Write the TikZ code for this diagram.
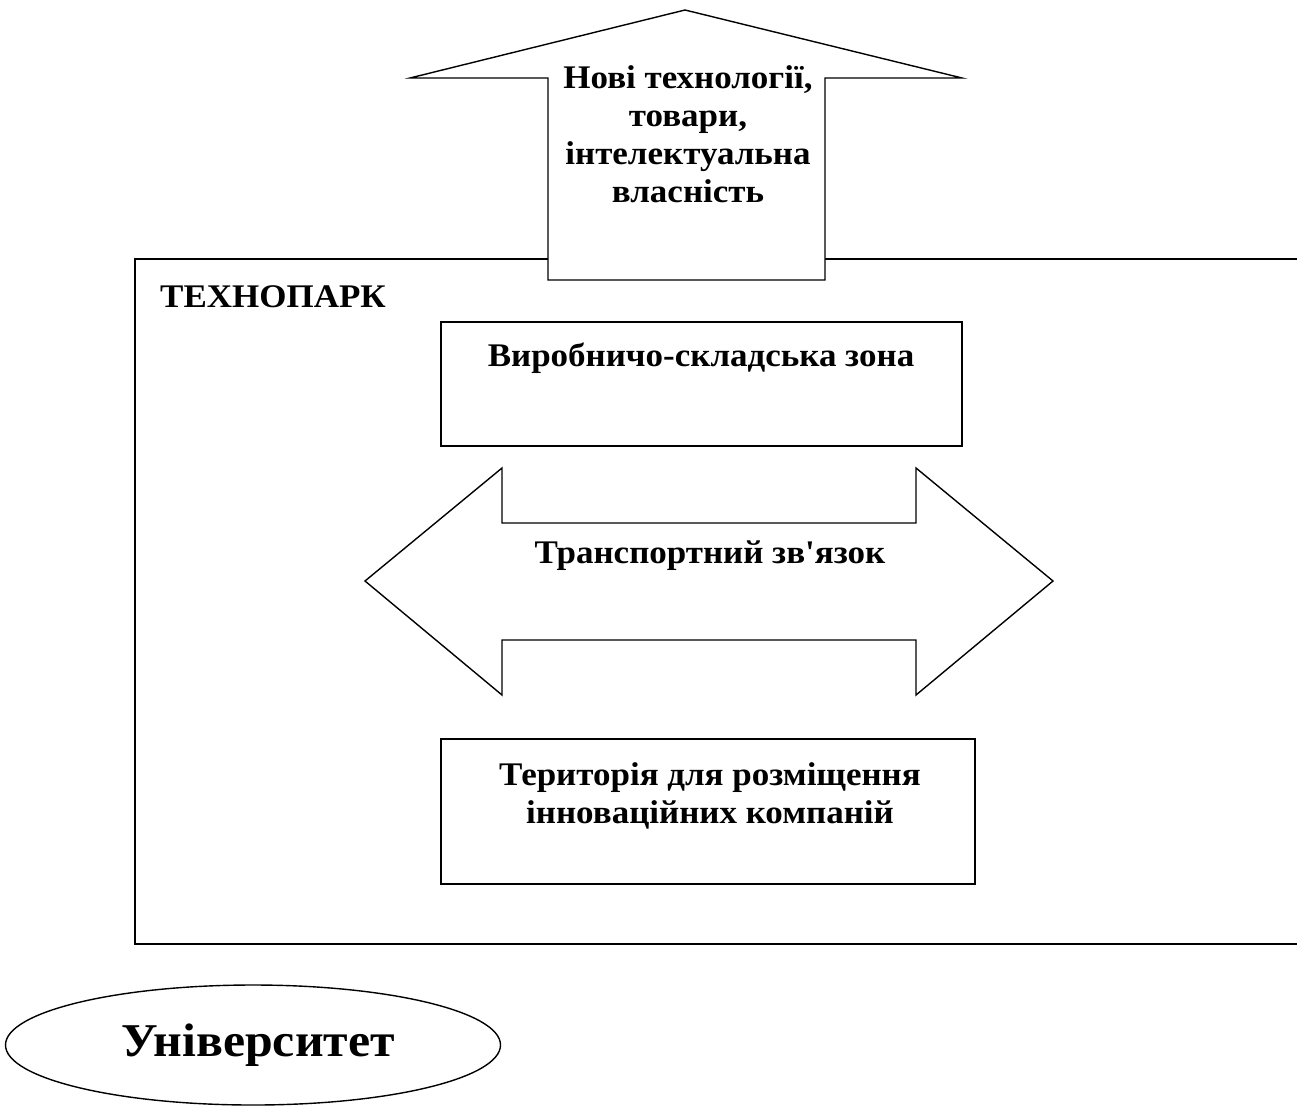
\documentclass[tikz,border=0pt]{standalone}
\usepackage{fontspec}
\setmainfont{Liberation Serif}[FakeStretch=1.06,Ligatures=TeXOff]
\usetikzlibrary{shapes.geometric}
\begin{document}
\begin{tikzpicture}[x=1pt,y=-1pt,
  line/.style={draw=black,line width=1.4pt},
  lbl/.style={font=\bfseries\fontsize{33}{38}\selectfont,align=center,inner sep=0pt},
  zonebox/.style={line,fill=white}]
\useasboundingbox (0,0) rectangle (1297,1111);
% technopark frame (open at right)
\draw[line] (1297,259) -- (135,259) -- (135,944) -- (1297,944);
% up arrow
\draw[line,fill=white,line join=miter] (548,280) -- (548,78) -- (410,78) -- (685,10) -- (962,78) -- (825,78) -- (825,280) -- cycle;
\node[lbl] (out) at (688,134) {Нові технології,\\товари,\\інтелектуальна\\власність};
\node[lbl,anchor=west] (tp) at (160,297) {ТЕХНОПАРК};
% production zone
\draw[zonebox] (441,322) rectangle (962,446);
\node[lbl] (prod) at (701,358) {Виробничо-складська зона};
% double arrow
\draw[line,fill=white,line join=miter] (365,581) -- (502,468) -- (502,523) -- (916,523) -- (916,468) -- (1053,581) -- (916,695) -- (916,640) -- (502,640) -- (502,695) -- cycle;
\node[lbl] (trans) at (710,556) {Транспортний зв'язок};
% territory
\draw[zonebox] (441,739) rectangle (975,884);
\node[lbl] (terr) at (710,796) {Територія для розміщення\\інноваційних компаній};
% university
\node[draw=black,line width=1.4pt,ellipse,minimum width=495,minimum height=120,inner sep=0pt] (uni) at (253,1045) {};
\node[font=\bfseries\fontsize{47}{52}\selectfont,inner sep=0pt] (unit) at (258,1045) {Університет};
\end{tikzpicture}
\end{document}
